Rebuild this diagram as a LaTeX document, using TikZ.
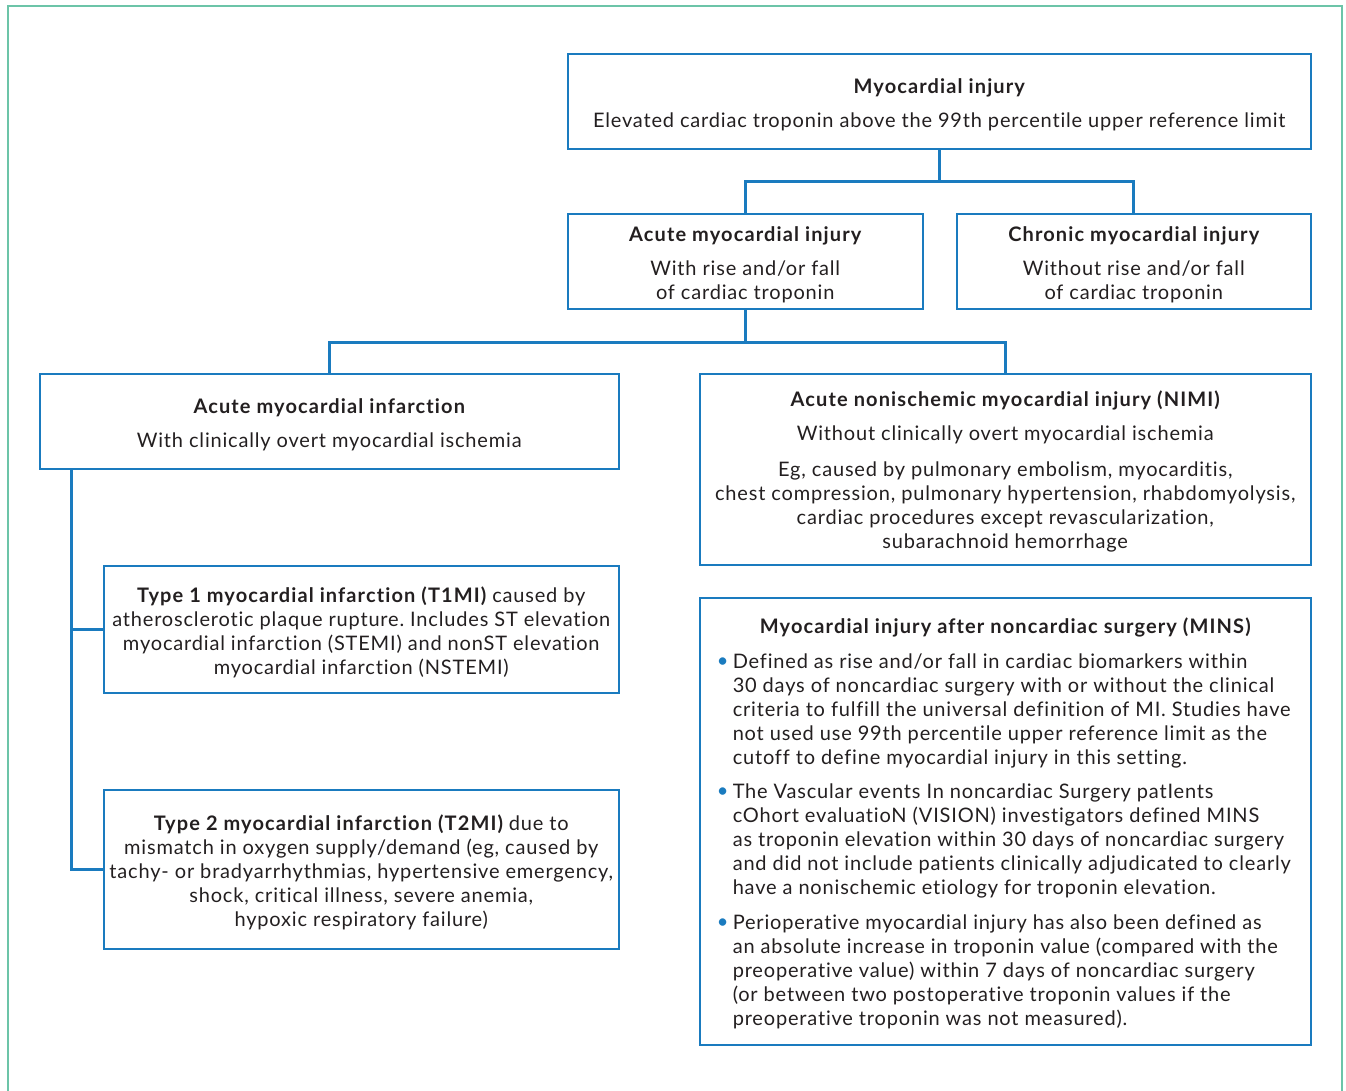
\documentclass[tikz,border=0pt]{standalone}
\usepackage{fontspec}
\setmainfont{Lato}[Ligatures={NoCommon}, LetterSpace=4.1, BoldFeatures={LetterSpace=5.6}]
\definecolor{boxblue}{HTML}{1A7BBF}
\definecolor{tealframe}{HTML}{6CC4A8}
\definecolor{txt}{HTML}{231F20}
\frenchspacing
\newcommand{\mybul}[1]{\noindent\makebox[16pt][l]{\raisebox{1pt}{\textcolor{boxblue}{\textbullet}}}\parbox[t]{561pt}{\raggedright #1}\par}
\newcommand{\tp}{\rule{0pt}{21pt}}
\begin{document}
\begin{tikzpicture}[x=1pt,y=-1pt,
  font=\fontsize{20}{24}\selectfont,
  box/.style={draw=boxblue, line width=1.5pt, inner sep=0pt, align=center, text=txt, anchor=north west},
  conn/.style={draw=boxblue, line width=3pt}]
\useasboundingbox (0,0) rectangle (1346,1090);
\draw[draw=tealframe, line width=2pt] (7.5,1100) -- (7.5,5.5) -- (1341.5,5.5) -- (1341.5,1100);

\node[box, minimum width=743, minimum height=95] (top) at (567,53)
  {\tp{\bfseries Myocardial injury}\\[10pt]Elevated cardiac troponin above the 99th percentile upper reference limit};
\node[box, minimum width=355, minimum height=95] (acute) at (567,213)
  {\tp{\bfseries Acute myocardial injury}\\[10pt]With rise and/or fall\\of cardiac troponin};
\node[box, minimum width=354, minimum height=95] (chronic) at (956,213)
  {\tp{\bfseries Chronic myocardial injury}\\[10pt]Without rise and/or fall\\of cardiac troponin};
\node[box, minimum width=579, minimum height=95] (ami) at (39,373)
  {\tp{\bfseries Acute myocardial infarction}\\[10pt]With clinically overt myocardial ischemia};
\node[box, minimum width=611, minimum height=191] (nimi) at (699,373)
  {\tp{\bfseries Acute nonischemic myocardial injury (NIMI)}\\[10pt]Without clinically overt myocardial ischemia\\[12pt]Eg, caused by pulmonary embolism, myocarditis,\\chest compression, pulmonary hypertension, rhabdomyolysis,\\cardiac procedures except revascularization,\\subarachnoid hemorrhage};
\node[box, minimum width=515, minimum height=127] (t1) at (103,565)
  {\tp{\bfseries Type 1 myocardial infarction (T1MI)} caused by\\atherosclerotic plaque rupture. Includes ST elevation\\myocardial infarction (STEMI) and nonST elevation\\myocardial infarction (NSTEMI)};
\node[box, minimum width=515, minimum height=159] (t2) at (103,789)
  {\tp{\bfseries Type 2 myocardial infarction (T2MI)} due to\\mismatch in oxygen supply/demand (eg, caused by\\tachy- or bradyarrhythmias, hypertensive emergency,\\shock, critical illness, severe anemia,\\hypoxic respiratory failure)};
\node[box, minimum width=611, minimum height=447] (mins) at (699,597)
  {\begin{minipage}{577pt}\fontsize{20}{24}\selectfont
   \vspace*{4pt}
   {\centering\bfseries Myocardial injury after noncardiac surgery (MINS)\par}\vspace{11pt}
   \mybul{Defined as rise and/or fall in cardiac biomarkers within\\30 days of noncardiac surgery with or without the clinical\\criteria to fulfill the universal definition of MI. Studies have\\not used use 99th percentile upper reference limit as the\\cutoff to define myocardial injury in this setting.}\vspace{15pt}
   \mybul{The Vascular events In noncardiac Surgery patIents\\cOhort evaluatioN (VISION) investigators defined MINS\\as troponin elevation within 30 days of noncardiac surgery\\and did not include patients clinically adjudicated to clearly\\have a nonischemic etiology for troponin elevation.}\vspace{16pt}
   \mybul{Perioperative myocardial injury has also been defined as\\an absolute increase in troponin value (compared with the\\preoperative value) within 7 days of noncardiac surgery\\(or between two postoperative troponin values if the\\preoperative troponin was not measured).}
   \end{minipage}};

\coordinate (j1) at ([yshift=-32pt]top.south);
\draw[conn] (top.south) -- (j1);
\draw[conn] (acute.north) |- (j1) -| (chronic.north);
\coordinate (j2) at ([yshift=-33pt]acute.south);
\draw[conn] (acute.south) -- (j2);
\draw[conn] (ami.north) |- (j2) -| (nimi.north);
\coordinate (sp) at ([xshift=32pt]ami.south west);
\draw[conn] (sp) |- (t2.west);
\draw[conn] (sp |- t1.west) -- (t1.west);
\end{tikzpicture}
\end{document}
